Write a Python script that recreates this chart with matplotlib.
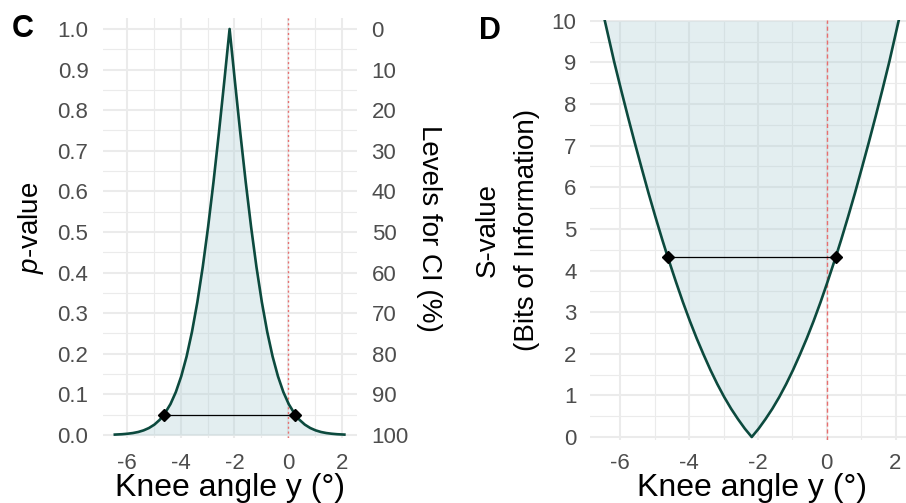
import matplotlib
matplotlib.use("Agg")
import matplotlib.pyplot as plt

# ---------------- data ----------------
knee_angle = [-6.45, -6.18, -5.98, -5.78, -5.58, -5.38, -5.18, -4.98, -4.78, -4.62,
              -4.38, -4.18, -3.98, -3.78, -3.58, -3.38, -3.18, -2.98, -2.78, -2.58,
              -2.38, -2.18, -1.98, -1.78, -1.58, -1.38, -1.18, -0.98, -0.78, -0.58,
              -0.38, -0.18, 0.02, 0.26, 0.42, 0.62, 0.82, 1.02, 1.22, 1.42, 1.62,
              1.82, 2.09]
p_value = [0.0010, 0.0019, 0.0031, 0.0048, 0.0074, 0.0114, 0.0172, 0.0255, 0.0374, 0.0500,
           0.0761, 0.1058, 0.1444, 0.1933, 0.2540, 0.3272, 0.4135, 0.5124, 0.6228, 0.7429,
           0.8696, 1.0000, 0.8696, 0.7429, 0.6228, 0.5124, 0.4135, 0.3272, 0.2540, 0.1933,
           0.1444, 0.1058, 0.0761, 0.0500, 0.0374, 0.0255, 0.0172, 0.0114, 0.0074, 0.0048,
           0.0031, 0.0019, 0.0010]
s_value = [10.00, 9.02, 8.35, 7.70, 7.07, 6.46, 5.86, 5.29, 4.74, 4.32,
           3.72, 3.24, 2.79, 2.37, 1.98, 1.61, 1.27, 0.96, 0.68, 0.43,
           0.20, 0.00, 0.20, 0.43, 0.68, 0.96, 1.27, 1.61, 1.98, 2.37,
           2.79, 3.24, 3.72, 4.32, 4.74, 5.29, 5.86, 6.46, 7.07, 7.70,
           8.35, 9.02, 10.00]
ci_bounds = [-4.62, 0.26]
ci_p = [0.05, 0.05]
ci_s = [4.32, 4.32]
null_value = 0.0

x_ticks = [-6, -4, -2, 0, 2]
x_minor = [-5, -3, -1, 1]
p_ticks = [0.0, 0.1, 0.2, 0.3, 0.4, 0.5, 0.6, 0.7, 0.8, 0.9, 1.0]
p_tick_labels = ["0.0", "0.1", "0.2", "0.3", "0.4", "0.5", "0.6", "0.7", "0.8", "0.9", "1.0"]
ci_level_labels = ["100", "90", "80", "70", "60", "50", "40", "30", "20", "10", "0"]
s_ticks = [0, 1, 2, 3, 4, 5, 6, 7, 8, 9, 10]

# ---------------- style ----------------
plt.rcParams["font.family"] = ["Liberation Sans", "DejaVu Sans"]
plt.rcParams["axes.unicode_minus"] = False
plt.rcParams["mathtext.fontset"] = "custom"
plt.rcParams["mathtext.it"] = "Liberation Sans:italic"
plt.rcParams["mathtext.rm"] = "Liberation Sans"

LINE = "#0C4A3E"
FILL = "#AFCFD6"
GRID = "#EBEBEB"
TICK = "#4D4D4D"
REF = "#E86F6F"
TICK_FS = 16
XTITLE_FS = 23
YTITLE_FS = 20
TAG_FS = 22

W, H = 906, 503
fig = plt.figure(figsize=(W / 100, H / 100), dpi=100)


def style(ax, xpad, ypad):
    for s in ax.spines.values():
        s.set_visible(False)
    ax.set_xticks(x_ticks)
    ax.set_xticks(x_minor, minor=True)
    ax.grid(which="major", color=GRID, lw=1.5)
    ax.grid(which="minor", color=GRID, lw=0.8)
    ax.set_axisbelow(True)
    ax.tick_params(which="both", length=0, labelsize=TICK_FS, labelcolor=TICK)
    ax.tick_params(axis="x", pad=xpad)
    ax.tick_params(axis="y", pad=ypad)
    ax.set_xlim(-6.89, 2.56)


# ---------------- panel C ----------------
axc = fig.add_axes([103 / W, 1 - 438 / H, 254 / W, 420 / H])
style(axc, 10.5, 10.5)
axc.set_ylim(-0.0074, 1.027)
axc.set_yticks(p_ticks)
axc.set_yticklabels(p_tick_labels)
axc.set_yticks([v + 0.05 for v in p_ticks[:-1]], minor=True)
axc.fill_between(knee_angle, p_value, 0, color=FILL, alpha=0.35, lw=0)
axc.axvline(null_value, color=REF, lw=1.0, ls=(0, (1.5, 2.0)), zorder=3)
axc.plot(knee_angle, p_value, color=LINE, lw=1.9, solid_joinstyle="round", zorder=4)
axc.plot(ci_bounds, ci_p, color="black", lw=0.9, marker="D", ms=6.5, zorder=5)
axc.set_xlabel("Knee angle y (°)", fontsize=XTITLE_FS, va="baseline")
axc.xaxis.set_label_coords(0.5, (438 - 496) / 420)
axc.set_ylabel("$p$-value", fontsize=YTITLE_FS, va="center")
axc.yaxis.set_label_coords((31.5 - 103) / 254, 0.5)

axc2 = axc.twinx()
for s in axc2.spines.values():
    s.set_visible(False)
axc2.set_ylim(axc.get_ylim())
axc2.set_yticks(p_ticks)
axc2.set_yticklabels(ci_level_labels)
axc2.tick_params(length=0, labelsize=TICK_FS, labelcolor=TICK, pad=10.5)
axc2.set_ylabel("Levels for CI (%)", fontsize=YTITLE_FS, rotation=270, va="center")
axc2.yaxis.set_label_coords((429 - 103) / 254, 0.5)

fig.text(23 / W, 1 - 29 / H, "C", fontsize=TAG_FS, fontweight="bold", ha="center", va="center")

# ---------------- panel D ----------------
axd = fig.add_axes([589.7 / W, 1 - 440 / H, 325.1 / W, 420 / H])
style(axd, 9.5, 9.5)
axd.set_ylim(-0.072, 10.02)
axd.set_yticks(s_ticks)
axd.set_yticks([v + 0.5 for v in s_ticks[:-1]], minor=True)
axd.fill_between(knee_angle, s_value, max(s_ticks), color=FILL, alpha=0.35, lw=0)
axd.axvline(null_value, color=REF, lw=1.0, ls=(0, (3.0, 2.0)), zorder=3)
axd.plot(knee_angle, s_value, color=LINE, lw=1.9, solid_joinstyle="round", zorder=4)
axd.plot(ci_bounds, ci_s, color="black", lw=0.9, marker="D", ms=6.5, zorder=5)
axd.set_xlabel("Knee angle y (°)", fontsize=XTITLE_FS, va="baseline")
axd.xaxis.set_label_coords(0.5, (440 - 496) / 420)
axd.text((488 - 589.7) / 325.1, 0.5, "S-value", transform=axd.transAxes,
         rotation=90, ha="center", va="center", fontsize=YTITLE_FS)
axd.text((527 - 589.7) / 325.1, 0.5, "(Bits of Information)", transform=axd.transAxes,
         rotation=90, ha="center", va="center", fontsize=YTITLE_FS)

fig.text(490 / W, 1 - 31 / H, "D", fontsize=TAG_FS, fontweight="bold", ha="center", va="center")

fig.savefig("out.png", dpi=100)
